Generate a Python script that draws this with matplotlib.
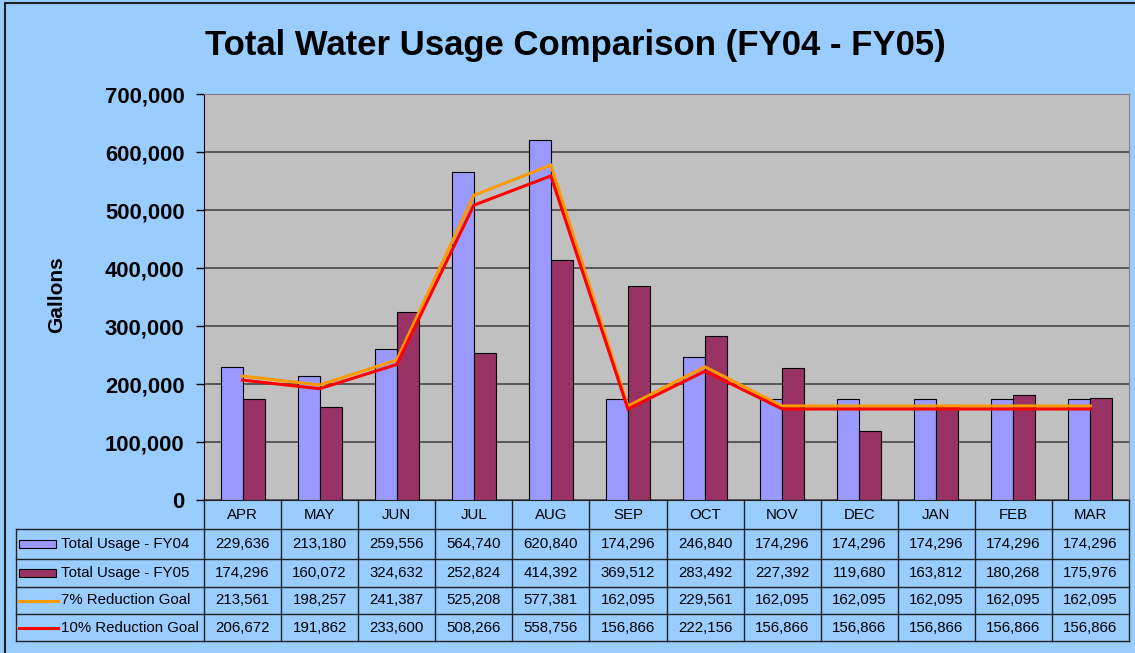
import numpy as np
import matplotlib
matplotlib.use("Agg")
import matplotlib.pyplot as plt
from matplotlib.patches import Rectangle
from matplotlib.transforms import blended_transform_factory
from matplotlib.ticker import FuncFormatter

# === DATA ===
months = ["APR", "MAY", "JUN", "JUL", "AUG", "SEP", "OCT", "NOV", "DEC", "JAN", "FEB", "MAR"]
fy04 = [229636, 213180, 259556, 564740, 620840, 174296, 246840, 174296, 174296, 174296, 174296, 174296]
fy05 = [174296, 160072, 324632, 252824, 414392, 369512, 283492, 227392, 119680, 163812, 180268, 175976]
goal7 = [213561, 198257, 241387, 525208, 577381, 162095, 229561, 162095, 162095, 162095, 162095, 162095]
goal10 = [206672, 191862, 233600, 508266, 558756, 156866, 222156, 156866, 156866, 156866, 156866, 156866]
series_names = ["Total Usage - FY04", "Total Usage - FY05", "7% Reduction Goal", "10% Reduction Goal"]

plt.rcParams['font.family'] = ['Liberation Sans', 'DejaVu Sans']

W, H = 1135, 653
BG = '#99CCFF'
c04, c05, c7, c10 = '#9999FF', '#993366', '#FF9900', '#FF0000'

fig = plt.figure(figsize=(W / 100, H / 100), dpi=100, facecolor=BG)


def fx(px):
    return px / W


def fy(py):
    return 1 - py / H


# outer chart border (right/bottom fall outside the picture)
fig.add_artist(Rectangle((fx(5), fy(700)), fx(1200) - fx(5), fy(3) - fy(700),
                         fill=False, ec='#222222', lw=1.5, transform=fig.transFigure))

L, R, T, B = 204, 1129, 94, 500
ax = fig.add_axes([fx(L), fy(B), fx(R) - fx(L), fy(T) - fy(B)])
ax.set_facecolor('#C0C0C0')

x = np.arange(len(months))
bw = 0.285
ax.bar(x - bw / 2, fy04, bw, color=c04, edgecolor='black', lw=0.8, zorder=3)
ax.bar(x + bw / 2, fy05, bw, color=c05, edgecolor='black', lw=0.8, zorder=3)
ax.plot(x, goal7, color=c7, lw=2.2, zorder=4, solid_joinstyle='miter')
ax.plot(x, goal10, color=c10, lw=2.2, zorder=5, solid_joinstyle='miter')

ax.set_xlim(-0.5, 11.5)
ax.set_ylim(0, 700000)
ax.set_yticks(range(0, 700001, 100000))
ax.yaxis.set_major_formatter(FuncFormatter(lambda v, p: f"{int(v):,}"))
ax.tick_params(axis='y', labelsize=15.8, length=6, width=1, pad=8)
for lbl in ax.get_yticklabels():
    lbl.set_fontweight('bold')
ax.set_xticks([])
ax.grid(axis='y', color='#505050', lw=1.3, zorder=1)
ax.set_axisbelow(True)
for s in ['top', 'right']:
    ax.spines[s].set_color('#808080')
ax.spines['left'].set_color('black')
ax.spines['bottom'].set_color('#222222')

ax.set_ylabel('Gallons', fontsize=15, fontweight='bold')
ax.yaxis.set_label_coords((66 - L) / (R - L), (B - 295) / (B - T))

fig.text(fx(575), fy(45), 'Total Water Usage Comparison (FY04 - FY05)',
         ha='center', va='center', fontsize=25, fontweight='bold')

# === DATA TABLE ===


def ay(py):
    return (B - py) / (B - T)


def ax_x(px):
    return (px - L) / (R - L)


bt = blended_transform_factory(ax.transData, ax.transAxes)
lc = '#222222'
row_lines = [529, 559, 587, 614, 641]

for e in np.arange(-0.5, 12, 1.0):
    ax.plot([e, e], [ay(B), ay(641)], color=lc, lw=1, transform=bt, clip_on=False)
for py in row_lines:
    ax.plot([ax_x(16), 1], [ay(py), ay(py)], color=lc, lw=1,
            transform=ax.transAxes, clip_on=False)
ax.plot([ax_x(16), ax_x(16)], [ay(529), ay(641)], color=lc, lw=1,
        transform=ax.transAxes, clip_on=False)

for i, m in enumerate(months):
    ax.text(i, ay(515), m, ha='center', va='center', fontsize=10.8, transform=bt)

rows = [fy04, fy05, goal7, goal10]
for r, vals in enumerate(rows):
    yc = ay((row_lines[r] + row_lines[r + 1]) / 2)
    for i, v in enumerate(vals):
        ax.text(i, yc, f"{v:,}", ha='center', va='center', fontsize=10.8, transform=bt)
    ax.text(ax_x(61), yc, series_names[r], ha='left', va='center', fontsize=10.8,
            transform=ax.transAxes)

# legend keys in the table
for r, col in enumerate([c04, c05]):
    yc = ay((row_lines[r] + row_lines[r + 1]) / 2)
    h = 8 / (B - T)
    ax.add_patch(Rectangle((ax_x(19), yc - h / 2), ax_x(56) - ax_x(19), h,
                           facecolor=col, edgecolor='black', lw=0.8,
                           transform=ax.transAxes, clip_on=False))
for r, col in [(2, c7), (3, c10)]:
    yc = ay((row_lines[r] + row_lines[r + 1]) / 2)
    ax.plot([ax_x(19), ax_x(58)], [yc, yc], color=col, lw=2.2,
            transform=ax.transAxes, clip_on=False)

fig.savefig('out.png', dpi=100, facecolor=BG)
